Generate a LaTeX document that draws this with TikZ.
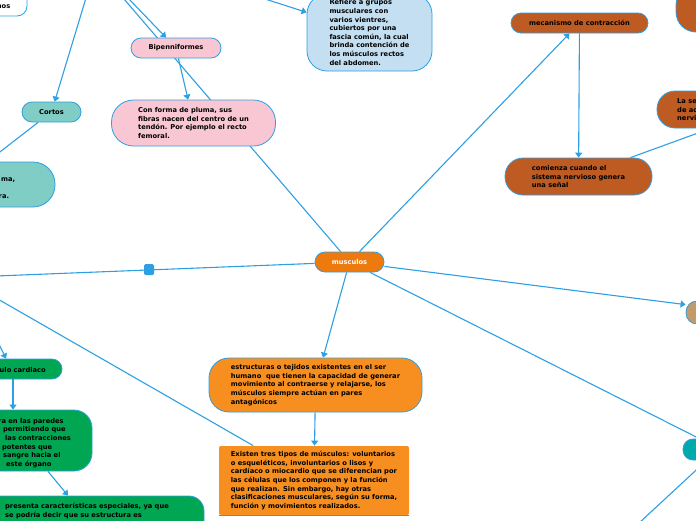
\documentclass[tikz,border=0pt]{standalone}
\usepackage{fontspec}
\newfontfamily\mapfamily{DejaVu Sans}
\usetikzlibrary{arrows.meta,backgrounds}
\definecolor{linkblue}{RGB}{45,159,227}
\definecolor{pinkfill}{RGB}{249,198,211}
\definecolor{skyfill}{RGB}{197,223,242}
\definecolor{mintfill}{RGB}{127,205,196}
\definecolor{centerorange}{RGB}{238,122,14}
\definecolor{orangefill}{RGB}{246,142,32}
\definecolor{rustfill}{RGB}{189,91,34}
\definecolor{greenfill}{RGB}{0,166,81}
\definecolor{tanfill}{RGB}{194,154,107}
\definecolor{tealfill}{RGB}{0,169,172}
\newcommand\mapfont{\mapfamily\bfseries\fontsize{6.7}{8.6}\selectfont}

\begin{document}
\begin{tikzpicture}[x=1pt, y=-1pt,
        topic/.style={draw=linkblue, line width=0.8pt, font=\mapfont, align=left, inner sep=0pt},
        pill/.style={topic, minimum height=20pt, rounded corners=10pt},
        bubble/.style={topic, rounded corners=#1},
        frag/.style={font=\mapfont, align=left, inner sep=0pt, anchor=west},
        link/.style={draw=linkblue, line width=1.1pt},
        arrow/.style={link, -{Triangle[length=5pt,width=7pt]}},
        fold/.style={fill=linkblue, minimum width=10pt, minimum height=11pt, inner sep=0pt, rounded corners=1.5pt}]
    \useasboundingbox (0,0) rectangle (696,520);
    \clip (0,0) rectangle (696,520);

    % centre
    \node[pill, fill=centerorange, text=white, minimum width=69pt] (musculos) at (349.5,262) {musculos};
    \node[fold] (fold) at (149,269.5) {};

    % forma
    \node[pill, fill=pinkfill, minimum width=90pt] (bip) at (176,48) {Bipenniformes};
    \node[bubble=22pt, fill=pinkfill, minimum width=164pt, minimum height=46pt] (pluma) at (193.5,123)
        {Con forma de pluma, sus\\fibras nacen del centro de un\\tendón. Por ejemplo el recto\\femoral.};
    \node[bubble=20pt, fill=skyfill, minimum width=125pt, minimum height=77pt] (recto) at (369.5,32.5)
        {Refiere a grupos\\musculares con\\varios vientres,\\cubiertos por una\\fascia común, la cual\\brinda contención de\\los músculos rectos\\del abdomen.};
    \node[pill, fill=mintfill, minimum width=59pt] (cortos) at (51.5,112) {Cortos};
    \node[bubble=10pt, fill=white, minimum width=127pt, minimum height=36pt] (leftnote) at (-36.5,-2) {};
    \node[frag, anchor=east] (leftnotet) at (10.5,7) {nos};
    \node[bubble=22pt, fill=mintfill, minimum width=160pt, minimum height=45pt] (anch) at (-25,184.5) {};
    \node[frag] (ancht) at (1,188.5) {ma,\\[8.6pt]\hspace*{-2.5pt}ra.};

    % definicion
    \node[bubble=20pt, fill=orangefill, minimum width=213pt, minimum height=54pt] (estr) at (315.5,385)
        {estructuras o tejidos existentes en el ser\\humano~ que tienen la capacidad de generar\\movimiento al contraerse y relajarse, los\\músculos siempre actúan en pares\\antagónicos};
    \node[topic, draw=none, fill=orangefill, rounded corners=2pt, minimum width=190pt, minimum height=69pt] (tipos) at (314,480.5)
        {Existen tres tipos de músculos: voluntarios\\o esqueléticos, involuntarios o lisos y\\cardíaco o miocardio que se diferencian por\\las células que los componen y la función\\que realizan. Sin embargo, hay otras\\clasificaciones musculares, según su forma,\\función y movimientos realizados.};
    \draw[link] (tipos.south west) -- (tipos.south east);

    % cardiaco
    \node[pill, fill=greenfill, minimum width=152pt] (cardiaco) at (-14,369) {};
    \node[frag] (cardiacot) at (-0.5,369.5) {ulo cardiaco};
    \node[bubble=18pt, fill=greenfill, minimum width=202pt, minimum height=61pt] (pared) at (-9,440.5) {};
    \node[frag, anchor=north west] (paredt) at (-2,418)
        {ra en las paredes\\, permitiendo que\\\hspace*{7pt}las contracciones\\\hspace*{4pt}potentes que\\\hspace*{-2pt}a sangre hacia el\\\hspace*{8pt}este órgano};
    \node[bubble=15pt, fill=greenfill, minimum width=304pt, minimum height=64pt] (pres) at (52,528) {};
    \node[frag, anchor=north west] (prest) at (5,503)
        {presenta características especiales, ya que\\se podría decir que su estructura es};

    % contraccion
    \node[pill, fill=rustfill, minimum width=137pt] (mec) at (579.5,23) {mecanismo de contracción};
    \node[bubble=18pt, fill=rustfill, minimum width=147pt, minimum height=37pt] (com) at (578.5,176.5)
        {comienza cuando el\\sistema nervioso genera\\una señal};
    \node[bubble=18pt, fill=rustfill, minimum width=140pt, minimum height=37pt] (senal) at (727,109.5) {};
    \node[frag, anchor=north west] (senalt) at (677,98.4) {La se\\de ac\\nervi};
    \node[bubble=20pt, fill=rustfill, minimum width=124pt, minimum height=47pt] (rtop) at (738,8.5) {};
    \node[bubble=11pt, fill=tanfill, minimum width=124pt, minimum height=23pt] (tan) at (748,312.5) {};
    \node[bubble=10pt, fill=tealfill, minimum width=124pt, minimum height=21pt] (teal) at (745,449.5) {};

    % free ends
    \coordinate (t1) at (86,-2);
    \coordinate (t2) at (128,-2);
    \coordinate (t3) at (118,-8);
    \coordinate (t4) at (262,-2);
    \coordinate (l1) at (-4,155);
    \coordinate (l2) at (-4,276);
    \coordinate (l3) at (-4,298);
    \coordinate (l4) at (-4,338);
    \coordinate (r1) at (720,449);
    \coordinate (r2) at (720,448);
    \coordinate (r3) at (625,536);
    \coordinate (r4) at (720,125);
    \coordinate (hw) at (6,0);
    \coordinate (hx) at (13,0);
    \coordinate (hy) at (48,0);
    \coordinate (hz) at (68,0);

    \begin{scope}[on background layer]
        \clip (0,0) rectangle (696,520);
        \draw[arrow] (t1) -- (cortos);
        \draw[arrow] (t2) -- (bip);
        \draw[arrow] (bip) -- (pluma);
        \draw[link] (musculos) -- (t3);
        \draw[arrow] (t4) -- (recto);
        \draw[arrow] (musculos) -- (mec);
        \draw[link] (cortos) -- (l1);
        \draw[link] (musculos) -- (l2);
        \draw[arrow] (musculos) -- (tan);
        \draw[link] (musculos) -- (r1);
        \draw[link] (r2) -- (r3);
        \draw[arrow] (musculos) -- (estr);
        \draw[arrow] (estr) -- (tipos);
        \draw[link] (l3) -- (tipos);
        \draw[arrow] (l4) -- (cardiaco.north -| hw);
        \draw[arrow] (cardiaco.south -| hx) -- (pared.north -| hx);
        \draw[arrow] (pared.south -| hy) -- (pres.north -| hz);
        \draw[arrow] (mec) -- (com);
        \draw[link] (r4) -- (com);
    \end{scope}
\end{tikzpicture}
\end{document}
